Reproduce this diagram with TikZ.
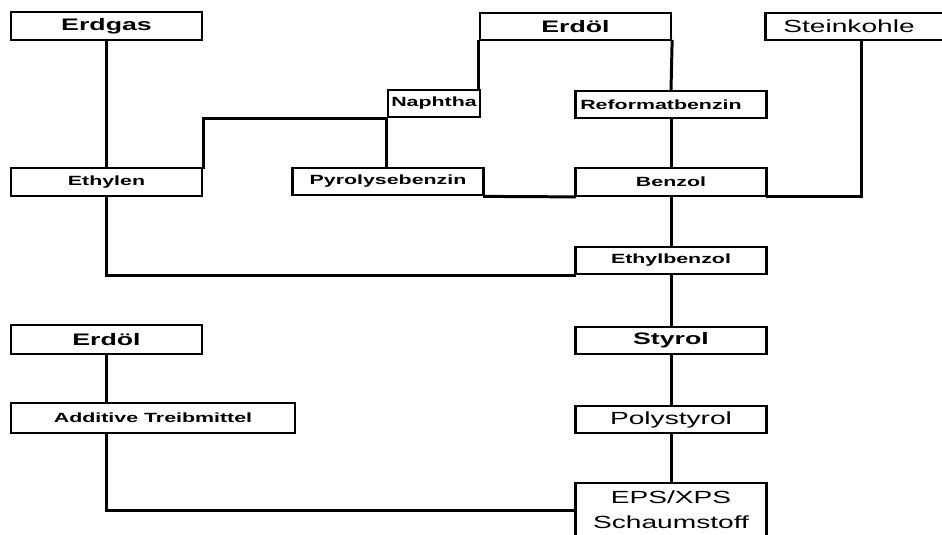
\documentclass[tikz,border=0pt]{standalone}
\usepackage{fontspec}
\usepackage{graphicx}
\newfontfamily\boxfont{Liberation Sans}
\newcommand{\breit}[1]{\scalebox{1.6}[1]{#1}}
\usetikzlibrary{positioning}

\begin{document}
\begin{tikzpicture}[x=0.02cm,y=-0.02cm,
  stoff/.style={draw=black,line width=1.3pt,fill=white,inner sep=0pt,minimum width=3.82cm,minimum height=0.55cm},
  gross/.style={font=\boxfont\bfseries\fontsize{9.5}{11}\selectfont},
  normal/.style={font=\boxfont\fontsize{10}{14.2}\selectfont},
  klein/.style={font=\boxfont\bfseries\fontsize{7.6}{9}\selectfont},
  strang/.style={line width=1.7pt,line cap=rect}]
\useasboundingbox (0,0) rectangle (942,534);
\clip (0,0) rectangle (942,534);

\node[stoff,gross] (erdgas) at (106.5,26) {\breit{Erdgas}};
\node[stoff,gross] (erdoelA) at (575.5,26.5) {\breit{Erdöl}};
\node[stoff,normal] (kohle) at (861,26.5) {\hspace*{-0.48cm}\breit{Steinkohle}};
\node[stoff,klein,minimum width=1.84cm] (naphtha) at (434,103.5) {\breit{Naphtha}};
\node[stoff,klein] (reformat) at (671,104.5) {\hspace*{-0.4cm}\breit{Reformatbenzin}};
\node[stoff,klein] (ethylen) at (106.5,182) {\breit{Ethylen}};
\node[stoff,klein] (pyrolyse) at (388,181.5) {\breit{Pyrolysebenzin}};
\node[stoff,klein] (benzol) at (671,182) {\breit{Benzol}};
\node[stoff,klein] (ethylbenzol) at (671,260.5) {\breit{Ethylbenzol}};
\node[stoff,gross] (styrol) at (671,340.5) {\breit{Styrol}};
\node[stoff,normal] (polystyrol) at (671,419.5) {\breit{Polystyrol}};
\node[stoff,normal,align=center,minimum height=1.08cm] (eps) at (671,510) {\breit{EPS/XPS}\\\breit{Schaumstoff}};
\node[stoff,gross,minimum height=0.58cm] (erdoelB) at (106.5,339.5) {\breit{Erdöl}};
\node[stoff,klein,minimum width=5.68cm,minimum height=0.6cm] (additive) at (153,418) {\breit{Additive Treibmittel}};

\draw[strang] (erdgas.south) -- (ethylen.north);
\draw[strang] (ethylen.south) |- (ethylbenzol.south west);
\draw[strang] (ethylen.north east) |- (naphtha.south west);
\draw[strang] (naphtha.south west) -- (naphtha.south west |- pyrolyse.north);
\draw[strang] (erdoelA.south west) -- (erdoelA.south west |- naphtha.north);
\draw[strang] (erdoelA.south east) -- (reformat.north);
\draw[strang] (reformat.south) -- (benzol.north);
\draw[strang] (pyrolyse.south east) -- (benzol.south west);
\draw[strang] (kohle.south) |- (benzol.south east);
\draw[strang] (benzol.south) -- (ethylbenzol.north);
\draw[strang] (ethylbenzol.south) -- (styrol.north);
\draw[strang] (styrol.south) -- (polystyrol.north);
\draw[strang] (polystyrol.south) -- (eps.north);
\draw[strang] (erdoelB.south) -- (erdoelB.south |- additive.north);
\draw[strang] (erdoelB.south |- additive.south) |- (eps.west);

\end{tikzpicture}
\end{document}
